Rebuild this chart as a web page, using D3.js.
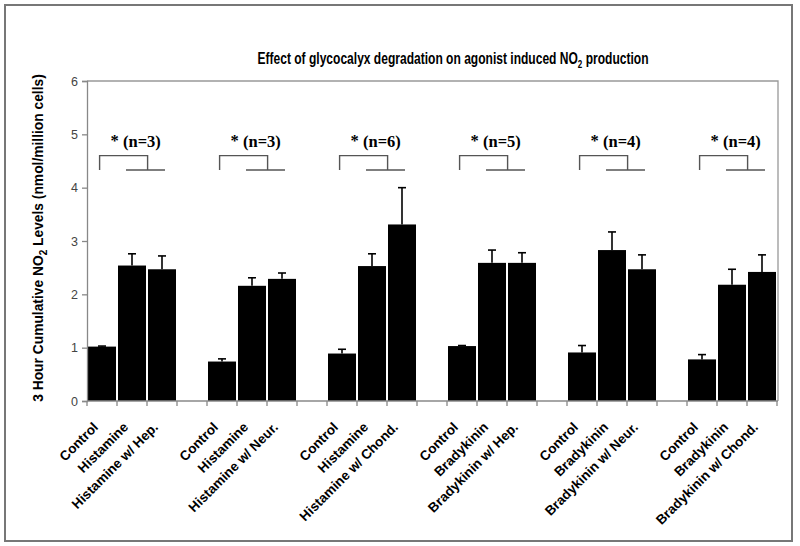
<!DOCTYPE html>
<html>
<head>
<meta charset="utf-8">
<script src="https://cdn.jsdelivr.net/npm/d3@7"></script>
<style>
  html, body { margin: 0; padding: 0; background: #fff; }
  svg { display: block; }
</style>
</head>
<body>
<svg id="chart" width="800" height="546"></svg>
<script>
// ---- data ----
const groupLabels = [
  ["Control", "Histamine", "Histamine w/ Hep."],
  ["Control", "Histamine", "Histamine w/ Neur."],
  ["Control", "Histamine", "Histamine w/ Chond."],
  ["Control", "Bradykinin", "Bradykinin w/ Hep."],
  ["Control", "Bradykinin", "Bradykinin w/ Neur."],
  ["Control", "Bradykinin", "Bradykinin w/ Chond."]
];
const means = [
  [1.02, 2.54, 2.47],
  [0.74, 2.16, 2.29],
  [0.89, 2.53, 3.31],
  [1.03, 2.59, 2.59],
  [0.91, 2.83, 2.47],
  [0.78, 2.18, 2.42]
];
const errors = [
  [0.01, 0.22, 0.25],
  [0.05, 0.15, 0.11],
  [0.08, 0.23, 0.69],
  [0.01, 0.24, 0.19],
  [0.13, 0.34, 0.27],
  [0.09, 0.29, 0.32]
];
const nLabels = ["(n=3)", "(n=3)", "(n=6)", "(n=5)", "(n=4)", "(n=4)"];
const yTicks = [0, 1, 2, 3, 4, 5, 6];

// ---- layout ----
const svg = d3.select("#chart");
const pLeft = 87, pRight = 777, pTop = 81, pBottom = 401;

// category slots (3 bars per group, a blank slot between groups)
const slots = [];
groupLabels.forEach((g, gi) => {
  g.forEach((lab, bi) => slots.push({ key: gi + "-" + bi, gi, bi, label: lab, value: means[gi][bi], err: errors[gi][bi] }));
  if (gi < groupLabels.length - 1) slots.push({ key: "gap" + gi, gap: true });
});
const x = d3.scaleBand().domain(slots.map(d => d.key)).range([pLeft, pRight]).padding(0);
const y = d3.scaleLinear().domain([0, 6]).range([pBottom, pTop]);
const bw = x.bandwidth();

// outer frame
svg.append("rect").attr("x", 5).attr("y", 5).attr("width", 787).attr("height", 536)
  .attr("fill", "#fff").attr("stroke", "#777").attr("stroke-width", 2);

// plot frame (top and right)
svg.append("path")
  .attr("d", `M${pLeft},${pTop}H${pRight + 1}V${pBottom}`)
  .attr("fill", "none").attr("stroke", "#999").attr("stroke-width", 1.3);

// title (condensed)
const title = svg.append("text")
  .attr("transform", "translate(453,64) scale(0.73,1)")
  .attr("text-anchor", "middle")
  .attr("font-family", "'Liberation Sans', Arial, sans-serif")
  .attr("font-weight", "bold").attr("font-size", 16.5).attr("fill", "#000");
title.append("tspan").text("Effect of glycocalyx degradation on agonist induced NO");
title.append("tspan").attr("dy", 4).attr("font-size", 11).text("2");
title.append("tspan").attr("dy", -4).text(" production");

// y label
const ylab = svg.append("text")
  .attr("transform", "translate(43,238) rotate(-90)")
  .attr("text-anchor", "middle")
  .attr("font-family", "'Liberation Sans', Arial, sans-serif")
  .attr("font-weight", "bold").attr("font-size", 13.8).attr("fill", "#000");
ylab.append("tspan").text("3 Hour Cumulative NO");
ylab.append("tspan").attr("dy", 4).attr("font-size", 10).text("2");
ylab.append("tspan").attr("dy", -4).text(" Levels (nmol/million cells)");

// bars
const bars = slots.filter(d => !d.gap);
svg.append("g").selectAll("rect").data(bars).join("rect")
  .attr("x", d => x(d.key) + 1)
  .attr("width", bw - 2)
  .attr("y", d => y(d.value))
  .attr("height", d => y(0) - y(d.value))
  .attr("fill", "#000");

// error bars
const eg = svg.append("g").attr("stroke", "#000").attr("stroke-width", 1.6);
eg.selectAll("line.v").data(bars).join("line").attr("class", "v")
  .attr("x1", d => x(d.key) + bw / 2).attr("x2", d => x(d.key) + bw / 2)
  .attr("y1", d => y(d.value)).attr("y2", d => y(d.value + d.err));
eg.selectAll("line.h").data(bars).join("line").attr("class", "h")
  .attr("x1", d => x(d.key) + bw / 2 - 4).attr("x2", d => x(d.key) + bw / 2 + 4)
  .attr("y1", d => y(d.value + d.err)).attr("y2", d => y(d.value + d.err));

// y axis
const yAxis = svg.append("g").attr("transform", `translate(${pLeft},0)`)
  .call(d3.axisLeft(y).tickValues(yTicks).tickSize(5).tickPadding(4).tickFormat(d3.format("d")));
yAxis.select(".domain").attr("stroke", "#888").attr("stroke-width", 1.3);
yAxis.selectAll(".tick line").attr("stroke", "#888").attr("stroke-width", 1.3);
yAxis.selectAll(".tick text").attr("font-family", "'Liberation Sans', Arial, sans-serif")
  .attr("font-size", 12.5).attr("fill", "#444");

// x axis line and boundary ticks
const xg = svg.append("g").attr("stroke", "#888").attr("stroke-width", 1.3);
xg.append("line").attr("x1", pLeft).attr("x2", pRight + 1).attr("y1", pBottom).attr("y2", pBottom);
const bounds = slots.map(d => x(d.key)).concat([pRight]);
xg.selectAll("line.t").data(bounds).join("line").attr("class", "t")
  .attr("x1", d => d).attr("x2", d => d).attr("y1", pBottom).attr("y2", pBottom + 5);

// x labels
svg.append("g").selectAll("text").data(bars).join("text")
  .attr("transform", d => `translate(${x(d.key) + bw / 2 - 3},${pBottom + 27}) rotate(-45)`)
  .attr("text-anchor", "end")
  .attr("font-family", "'Liberation Sans', Arial, sans-serif")
  .attr("font-weight", "bold").attr("font-size", 13.5).attr("fill", "#000")
  .text(d => d.label);

// significance brackets
const gStart = gi => x(gi + "-0");
const brackets = svg.append("g").attr("fill", "none").attr("stroke", "#555").attr("stroke-width", 1.4);
groupLabels.forEach((g, gi) => {
  const s = gStart(gi);
  const xl = s + bw * 0.42, xm = s + bw * 2.02, xa = s + bw * 1.3, xb = s + bw * 2.6;
  brackets.append("path").attr("d", `M${xl},${y(4.33)}V${y(4.6)}H${xm}V${y(4.33)}`);
  brackets.append("path").attr("d", `M${xa},${y(4.33)}H${xb}`);
  const t = svg.append("text")
    .attr("x", xl + 11).attr("y", y(4.6) - 9)
    .attr("font-family", "'Liberation Serif', 'Times New Roman', serif")
    .attr("font-weight", "bold").attr("font-size", 16.5).attr("fill", "#000");
  t.append("tspan").attr("dy", -1).text("*");
  t.append("tspan").attr("dy", 1).text(" " + nLabels[gi]);
});
</script>
</body>
</html>
